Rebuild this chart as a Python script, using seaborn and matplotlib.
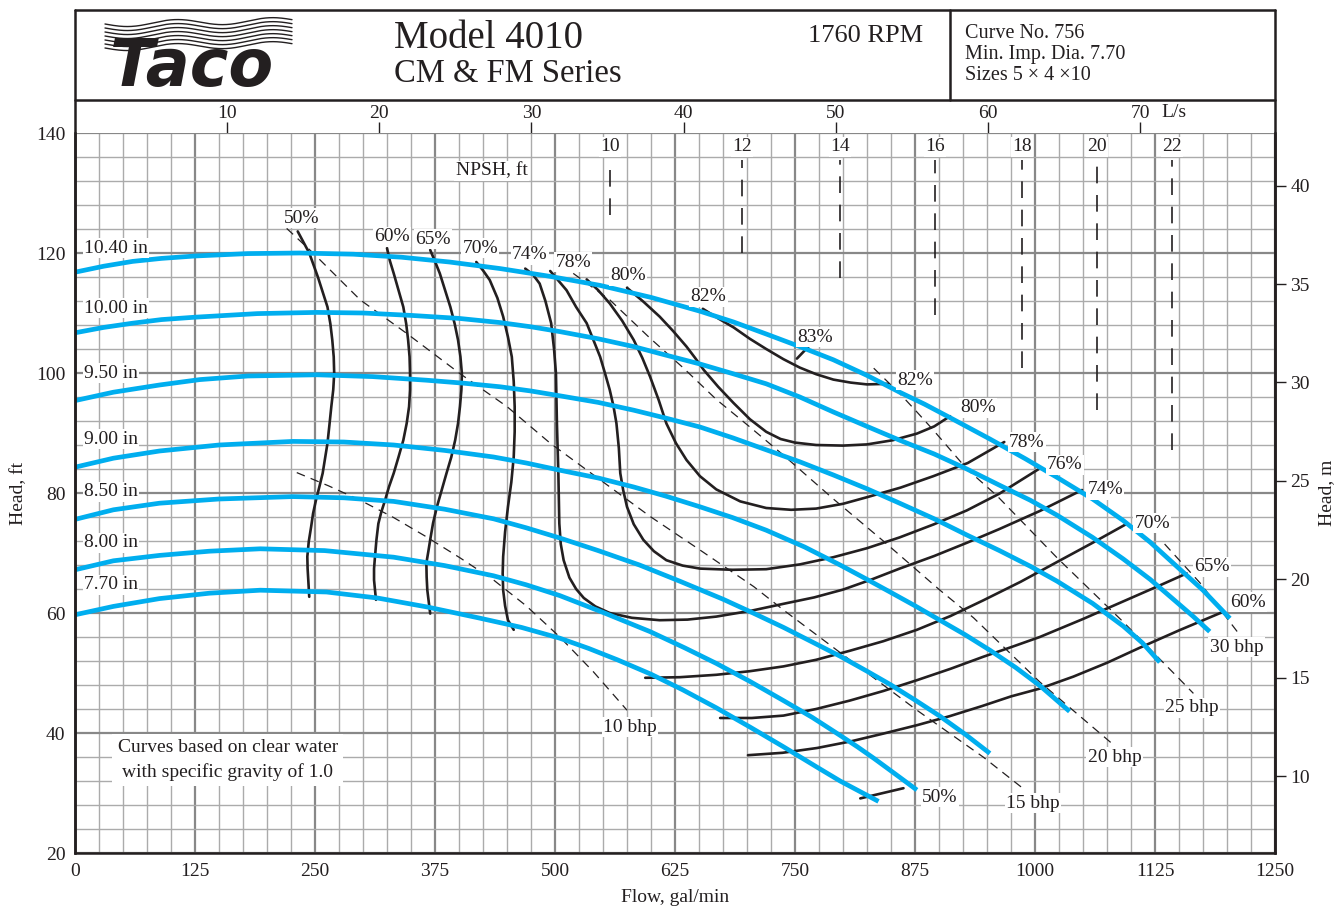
import numpy as np
import pandas as pd
import matplotlib
matplotlib.use("Agg")
import matplotlib.pyplot as plt
from matplotlib.lines import Line2D
import seaborn as sns

# impeller curves, flow gal/min / head ft
imp_names = ["10.40 in", "10.00 in", "9.50 in", "9.00 in", "8.50 in", "8.00 in", "7.70 in"]
flow_1040 = [0, 30, 60, 90, 125, 180, 234, 290, 340, 390, 443, 495, 547, 600, 651, 686, 720, 755,
             790, 825, 859, 885, 911, 953, 990, 1023, 1060, 1092, 1120, 1144, 1175, 1203]
head_1040 = [116.8, 117.8, 118.6, 119.1, 119.5, 119.9, 120.0, 119.8, 119.3, 118.5, 117.4, 116.1, 114.6,
             112.6, 110.3, 108.5, 106.5, 104.4, 102.2, 99.6, 96.8, 94.8, 92.6, 89.0, 85.7, 82.6, 79.0,
             75.4, 71.8, 68.3, 63.8, 59.1]
flow_1000 = [0, 30, 60, 90, 125, 190, 252, 300, 350, 400, 443, 475, 505, 545, 582, 615, 651, 685, 720,
             755, 790, 825, 859, 895, 929, 963, 995, 1023, 1060, 1092, 1120, 1144, 1165, 1182]
head_1000 = [106.7, 107.6, 108.3, 108.9, 109.3, 109.9, 110.1, 110.0, 109.6, 109.1, 108.4, 107.7, 106.9,
             105.7, 104.4, 103.0, 101.5, 99.9, 98.2, 96.0, 93.5, 91.1, 88.8, 86.5, 84.0, 81.3, 78.8, 76.3,
             72.6, 69.0, 65.6, 62.3, 59.4, 56.9]
flow_950 = [0, 40, 88, 130, 180, 252, 310, 366, 405, 443, 475, 505, 545, 582, 615, 651, 685, 720, 755,
            790, 825, 859, 895, 929, 963, 995, 1023, 1060, 1092, 1112, 1130]
head_950 = [95.4, 96.8, 98.0, 98.9, 99.5, 99.7, 99.4, 98.8, 98.3, 97.7, 97.0, 96.2, 95.1, 93.8, 92.5,
            91.0, 89.2, 87.2, 85.2, 83.0, 80.7, 78.3, 75.7, 73.0, 70.4, 67.8, 65.3, 61.6, 57.8, 55.0, 51.8]
flow_900 = [0, 40, 88, 150, 227, 280, 332, 385, 436, 470, 505, 545, 582, 615, 651, 685, 720, 760, 797,
            825, 849, 875, 901, 927, 953, 980, 1005, 1036]
head_900 = [84.3, 85.8, 87.0, 88.0, 88.6, 88.5, 88.0, 87.1, 86.0, 85.0, 83.8, 82.5, 81.0, 79.5, 77.7,
            75.9, 73.8, 71.0, 68.0, 65.6, 63.5, 61.2, 58.8, 56.4, 53.8, 50.9, 47.9, 43.6]
flow_850 = [0, 40, 88, 150, 227, 280, 332, 385, 436, 470, 505, 545, 588, 630, 675, 705, 738, 770, 797,
            825, 849, 875, 901, 928, 953]
head_850 = [75.6, 77.2, 78.3, 79.0, 79.4, 79.2, 78.6, 77.3, 75.7, 74.2, 72.5, 70.4, 68.0, 65.3, 62.3,
            60.1, 57.6, 55.0, 52.8, 50.3, 48.1, 45.5, 42.8, 39.7, 36.6]
flow_800 = [0, 40, 88, 140, 193, 260, 332, 385, 436, 470, 505, 550, 599, 635, 668, 703, 738, 768, 797,
            815, 832, 855, 877]
head_800 = [67.2, 68.7, 69.6, 70.3, 70.7, 70.4, 69.3, 67.9, 66.2, 64.7, 62.9, 60.1, 56.9, 54.2, 51.6,
            48.6, 45.4, 42.6, 39.6, 37.7, 35.8, 33.1, 30.5]
flow_770 = [0, 40, 88, 140, 193, 262, 315, 367, 420, 465, 505, 535, 565, 600, 633, 668, 703, 738, 773,
            797, 817, 837]
head_770 = [59.7, 61.1, 62.4, 63.3, 63.8, 63.5, 62.5, 61.0, 59.2, 57.6, 55.8, 54.1, 52.2, 49.8, 47.2,
            44.2, 41.0, 37.7, 34.3, 32.0, 30.3, 28.6]
imp_label_head = [120.8, 110.8, 100.0, 89.0, 80.2, 71.7, 64.7]

# efficiency contours
eff_50a_flow = [232, 238, 244, 248.5, 253, 258, 263, 266, 268, 269.5, 270, 269, 267, 265, 263, 260.5,
                258, 254.5, 251, 248, 246, 243.5, 242, 242.3, 243, 244]
eff_50a_head = [123.6, 121.8, 120, 118, 116, 113.5, 111, 108.2, 105.5, 102.7, 99.9, 97.2, 94.4, 91.3,
                88.3, 85.8, 83.3, 81, 78.8, 76.6, 74.4, 71.9, 69.4, 67.4, 65.5, 62.7]
eff_50b_flow = [818, 863]
eff_50b_head = [29.1, 30.8]
eff_60a_flow = [325, 328, 332, 337, 342, 345, 347, 348.5, 349, 349, 348, 345.5, 342, 337, 332, 327,
                323, 319, 316, 314, 312.5, 311.5, 311.5, 313.5]
eff_60a_head = [120.8, 118.7, 116.6, 113.8, 111, 108.2, 105.5, 102.7, 99.9, 97.2, 94.4, 91.6, 88.8,
                86, 83.3, 81, 78.8, 76.8, 74.9, 72.2, 69.4, 67.4, 65.5, 62.2]
eff_60b_flow = [701, 737, 773, 808, 842, 877, 911, 945, 975, 1005, 1040, 1075, 1109, 1150, 1196]
eff_60b_head = [36.3, 36.7, 37.5, 38.6, 39.9, 41.3, 42.8, 44.5, 46.1, 47.4, 49.4, 51.7, 54.2, 57.1, 60.2]
eff_65a_flow = [370, 375, 380, 385.5, 391, 395.5, 399, 401.5, 403, 402.5, 401, 399, 396, 392, 387,
                382, 377, 373, 370, 368, 366, 366.3, 367, 370]
eff_65a_head = [120.5, 118.6, 116.6, 113.8, 111, 108.2, 105.5, 102.7, 99.9, 97.2, 94.4, 91.6, 88.8,
                86, 83.3, 80.5, 77.7, 75, 72.2, 70.2, 68.3, 66, 63.8, 59.9]
eff_65b_flow = [672, 705, 738, 772, 807, 842, 877, 912, 946, 975, 1005, 1050, 1100, 1130, 1158]
eff_65b_head = [42.5, 42.5, 42.9, 44.0, 45.4, 47.0, 48.8, 50.7, 52.7, 54.3, 56.0, 59.0, 62.5, 64.6, 66.6]
eff_70a_flow = [418, 425, 432, 440, 446, 451, 455, 457, 458, 458, 457, 454.5, 451, 448, 446, 445.5,
                446, 448, 451, 457]
eff_70a_head = [118.5, 117.1, 115.5, 112.5, 109.4, 106, 102.7, 98.6, 94.4, 90.2, 86, 81.8, 77.7, 73.5,
                69.4, 66.6, 63.8, 61.2, 58.8, 57.2]
eff_70b_flow = [594, 630, 668, 703, 738, 772, 807, 842, 877, 912, 946, 985, 1023, 1060, 1096]
eff_70b_head = [49.2, 49.3, 49.7, 50.3, 51.1, 52.2, 53.7, 55.3, 57.2, 59.5, 62.1, 65.2, 68.5, 71.7, 74.9]
eff_74_flow = [469, 477, 484, 490, 496, 499, 501, 502, 503.5, 504.5, 506, 509, 515, 522, 530, 542, 557,
               580, 609, 638, 668, 705, 740, 770, 800, 830, 859, 895, 929, 963, 1005, 1049]
eff_74_head = [117.4, 116.4, 114.9, 112, 108.3, 104, 99.9, 91.6, 83.3, 74.9, 71.5, 68.8, 65.9, 64,
               62.5, 61.1, 60, 59.2, 58.8, 58.9, 59.4, 60.4, 61.6, 62.6, 63.9, 65.6, 67.4, 69.5, 71.7,
               74.0, 77.0, 80.5]
eff_76_flow = [495, 503, 512, 522, 533, 540, 547, 552, 557, 561, 564, 566.5, 568, 571, 575, 582, 592,
               603, 616, 633, 651, 685, 720, 755, 790, 825, 859, 895, 929, 963, 1005]
eff_76_head = [117, 115.5, 113.8, 111, 108.3, 105.5, 102.7, 100, 97.2, 94.4, 91.6, 87.5, 83.3, 80.5,
               77.7, 74.8, 72.2, 70.3, 68.8, 67.9, 67.4, 67.2, 67.3, 68.1, 69.3, 70.8, 72.6, 74.8, 77.1,
               79.9, 84.1]
eff_78_flow = [533, 545, 557, 570, 582, 591, 599, 608, 616, 626, 637, 651, 668, 693, 720, 746, 772, 800,
               825, 860, 894, 930, 968]
eff_78_head = [115.6, 113.8, 111.6, 108.7, 105.5, 102.5, 99.4, 95.5, 91.6, 88.3, 85.5, 82.8, 80.6,
               78.6, 77.5, 77.2, 77.4, 78.2, 79.3, 80.9, 82.8, 85.0, 88.5]
eff_80_flow = [575, 592, 609, 623, 637, 646, 655, 670, 686, 703, 720, 735, 750, 772, 800, 825, 852, 877,
               895, 911.5]
eff_80_head = [114.2, 111.9, 109.4, 107, 104.4, 102.5, 100.5, 97.7, 95, 92.3, 90.2, 89, 88.4, 88.0,
               87.9, 88.1, 88.8, 89.9, 91.1, 92.8]
eff_82_flow = [654, 670, 686, 703, 720, 738, 755, 772, 790, 808, 825, 847]
eff_82_head = [110.7, 109.1, 107.6, 105.7, 104, 102.3, 100.9, 99.8, 98.9, 98.4, 98.1, 98.2]
eff_83_flow = [752, 764]
eff_83_head = [102.4, 104.4]

# brake horsepower lines
bhp_10_flow = [231, 264, 297, 332, 366, 401, 436, 470, 505, 540, 575]
bhp_10_head = [83.4, 81.2, 78.8, 75.9, 72.7, 69.2, 65.5, 61.2, 56, 50.2, 43.8]
bhp_15_flow = [220.5, 248, 297, 345.5, 401, 450, 495, 547, 599, 651, 707, 738, 807, 877, 946, 988]
bhp_15_head = [124.1, 120, 112.2, 106.6, 99.9, 94.4, 88.3, 82.2, 76.1, 70.5, 64.4, 60.5, 52.2, 43.8, 36, 30.7]
bhp_20_flow = [519, 557, 599, 634, 668, 703, 738, 790, 842, 901, 936, 1005, 1082]
bhp_20_head = [116.6, 112.2, 105.8, 100.8, 95.6, 91, 86.3, 79, 72, 63.8, 59.2, 48.5, 38]
bhp_25_flow = [832, 859, 877, 894, 929, 960, 1023, 1092, 1148, 1165]
bhp_25_head = [100.8, 96.6, 93.5, 90.5, 84, 79.6, 69.2, 58.5, 49.4, 46.6]
bhp_30_flow = [1135, 1172, 1213.5]
bhp_30_head = [71.5, 65, 56.3]

# label positions (flow, head)
eff_labels = ["50%", "60%", "65%", "70%", "74%", "78%", "80%", "82%", "83%",
              "82%", "80%", "78%", "76%", "74%", "70%", "65%", "60%", "50%"]
eff_label_flow = [236.5, 330, 373, 422, 474, 519, 576, 660, 771,
                  875, 940.6, 991.7, 1031, 1073, 1122, 1184, 1222, 901]
eff_label_head = [125.8, 122.7, 122.3, 120.8, 119.7, 118.5, 116.2, 112.7, 106,
                  98.8, 94.2, 88.5, 84.7, 80.5, 75, 67.7, 61.8, 29.3]
bhp_labels = ["10 bhp", "15 bhp", "20 bhp", "25 bhp", "30 bhp"]
bhp_label_flow = [578, 998, 1083, 1163.5, 1210]
bhp_label_head = [41, 28.3, 36, 44.2, 54.3]

# NPSH marks
npsh_values = [10, 12, 14, 16, 18, 20, 22]
npsh_flow = [557, 695, 797, 896, 986.5, 1064.6, 1142.7]
npsh_top = [135.5, 135.5, 135.5, 135.5, 135.5, 135.5, 135.5]
npsh_bottom = [126.3, 120, 115.8, 109.7, 100.8, 93.8, 87.2]

ls_ticks = [10, 20, 30, 40, 50, 60, 70]
m_ticks = [10, 15, 20, 25, 30, 35, 40]


def long_table(curves):
    rows = []
    for name, fl, hd in curves:
        for f, h in zip(fl, hd):
            rows.append({"curve": name, "flow": f, "head": h})
    return pd.DataFrame(rows)


imp_df = long_table(zip(imp_names,
                        [flow_1040, flow_1000, flow_950, flow_900, flow_850, flow_800, flow_770],
                        [head_1040, head_1000, head_950, head_900, head_850, head_800, head_770]))
eff_df = long_table([
    ("50a", eff_50a_flow, eff_50a_head), ("50b", eff_50b_flow, eff_50b_head),
    ("60a", eff_60a_flow, eff_60a_head), ("60b", eff_60b_flow, eff_60b_head),
    ("65a", eff_65a_flow, eff_65a_head), ("65b", eff_65b_flow, eff_65b_head),
    ("70a", eff_70a_flow, eff_70a_head), ("70b", eff_70b_flow, eff_70b_head),
    ("74", eff_74_flow, eff_74_head), ("76", eff_76_flow, eff_76_head),
    ("78", eff_78_flow, eff_78_head), ("80", eff_80_flow, eff_80_head),
    ("82", eff_82_flow, eff_82_head), ("83", eff_83_flow, eff_83_head),
])
bhp_df = long_table([
    ("10", bhp_10_flow, bhp_10_head), ("15", bhp_15_flow, bhp_15_head),
    ("20", bhp_20_flow, bhp_20_head), ("25", bhp_25_flow, bhp_25_head),
    ("30", bhp_30_flow, bhp_30_head),
])

sns.set_style("white")
plt.rcParams["font.family"] = ["Liberation Serif", "DejaVu Serif"]
INK = "#231f20"
BLUE = "#00aeef"

W, H = 1336, 906
fig = plt.figure(figsize=(W / 100, H / 100), dpi=100)
ax = fig.add_axes([75 / W, 53 / H, 1200 / W, 720 / H])


def fx(px):
    return px / W


def fy(py):
    return 1 - py / H


# grid
ax.set_xlim(0, 1250)
ax.set_ylim(20, 140)
ax.set_xticks(np.arange(0, 1251, 125))
ax.set_xticks(np.arange(0, 1251, 25), minor=True)
ax.set_yticks(np.arange(20, 141, 20))
ax.set_yticks(np.arange(20, 141, 4), minor=True)
ax.grid(which="minor", color="#ababab", lw=1.0)
ax.grid(which="major", color="#888888", lw=1.6)
ax.set_axisbelow(True)
ax.tick_params(which="minor", length=0)
ax.tick_params(which="major", length=5, width=1, color=INK, labelsize=14, labelcolor=INK, pad=2)

sns.lineplot(data=bhp_df, x="flow", y="head", units="curve", estimator=None, sort=False,
             color=INK, lw=0.9, linestyle=(0, (7, 5)), ax=ax, legend=False)
sns.lineplot(data=eff_df, x="flow", y="head", units="curve", estimator=None, sort=False,
             color=INK, lw=1.9, ax=ax, legend=False)
sns.lineplot(data=imp_df, x="flow", y="head", units="curve", estimator=None, sort=False,
             color=BLUE, lw=3.4, solid_capstyle="butt", ax=ax, legend=False)
ax.vlines(npsh_flow, npsh_bottom, npsh_top, colors=INK, lw=1.2, linestyles=(0, (10, 7)))

box = dict(facecolor="white", edgecolor="none", pad=1.0)
for name, h in zip(imp_names, imp_label_head):
    ax.text(9.4, h, name, ha="left", va="center", fontsize=14, color=INK, bbox=box, zorder=5)
for s, f, h in zip(eff_labels, eff_label_flow, eff_label_head):
    ax.text(f, h, s, ha="center", va="center", fontsize=14, color=INK, bbox=box, zorder=5)
for s, f, h in zip(bhp_labels, bhp_label_flow, bhp_label_head):
    ax.text(f, h, s, ha="center", va="center", fontsize=14, color=INK, bbox=box, zorder=5)
for v, f in zip(npsh_values, npsh_flow):
    ax.text(f, 137.7, str(v), ha="center", va="center", fontsize=14, color=INK, bbox=box, zorder=5)
ax.text(434, 133.7, "NPSH, ft", ha="center", va="center", fontsize=14, color=INK, bbox=box, zorder=5)
ax.text(159, 35.5, "Curves based on clear water\nwith specific gravity of 1.0", ha="center",
        va="center", fontsize=14, color=INK, linespacing=1.45,
        bbox=dict(facecolor="white", edgecolor="none", pad=4), zorder=5)

ax.set_xlabel("Flow, gal/min", fontsize=14, color=INK, labelpad=7)
ax.set_ylabel("Head, ft", fontsize=14, color=INK, labelpad=6)

for side in ["left", "bottom", "right"]:
    ax.spines[side].set_color(INK)
    ax.spines[side].set_linewidth(1.8)
ax.spines["top"].set_visible(False)

sec_y = ax.secondary_yaxis("right", functions=(lambda f: f * 0.3048, lambda m: m / 0.3048))
sec_y.set_yticks(m_ticks)
sec_y.tick_params(length=8, width=1, color=INK, labelsize=14, labelcolor=INK, pad=3)
sec_y.spines["right"].set_visible(False)
sec_y.set_ylabel("Head, m", fontsize=14, color=INK, labelpad=6)

sec_x = ax.secondary_xaxis("top", functions=(lambda g: g * 0.0630902, lambda l: l / 0.0630902))
sec_x.set_xticks(ls_ticks)
sec_x.tick_params(length=8, width=1, color=INK, labelsize=14, labelcolor=INK, pad=0)
sec_x.spines["top"].set_visible(False)
ax.text(70 / 0.0630902 + 22, 1.0 + 21 / 720, "L/s", transform=ax.get_xaxis_transform(),
        ha="left", va="center", fontsize=14, color=INK)

# header frame
for x0, y0, x1, y1 in [(75, 10, 1275, 10), (75, 100, 1275, 100), (75, 10, 75, 853),
                       (1275, 10, 1275, 853), (950, 10, 950, 100)]:
    fig.add_artist(Line2D([fx(x0), fx(x1)], [fy(y0), fy(y1)], color=INK, lw=1.8))

# logo waves
xs = np.linspace(105, 292, 200)
for i in range(7):
    ys = 24 + i * 4.0 + 3.0 * np.sin((xs - 105) / 95 * 2 * np.pi) - (xs - 105) * 0.02
    fig.add_artist(Line2D(fx(xs), fy(ys), color=INK, lw=1.0))
fig.text(fx(110), fy(86), "Taco", fontsize=47, fontweight="bold", style="italic",
         family="DejaVu Sans", color=INK, va="baseline", ha="left")

fig.text(fx(394), fy(38), "Model 4010", fontsize=28, color=INK, va="center", ha="left")
fig.text(fx(394), fy(74), "CM & FM Series", fontsize=23.5, color=INK, va="center", ha="left")
fig.text(fx(866), fy(36), "1760 RPM", fontsize=19, color=INK, va="center", ha="center")
fig.text(fx(965), fy(33), "Curve No. 756", fontsize=14.5, color=INK, va="center", ha="left")
fig.text(fx(965), fy(55), "Min. Imp. Dia. 7.70", fontsize=14.5, color=INK, va="center", ha="left")
fig.text(fx(965), fy(76), "Sizes 5 \u00d7 4 \u00d710", fontsize=14.5, color=INK, va="center", ha="left")

fig.savefig("out.png", dpi=100)
